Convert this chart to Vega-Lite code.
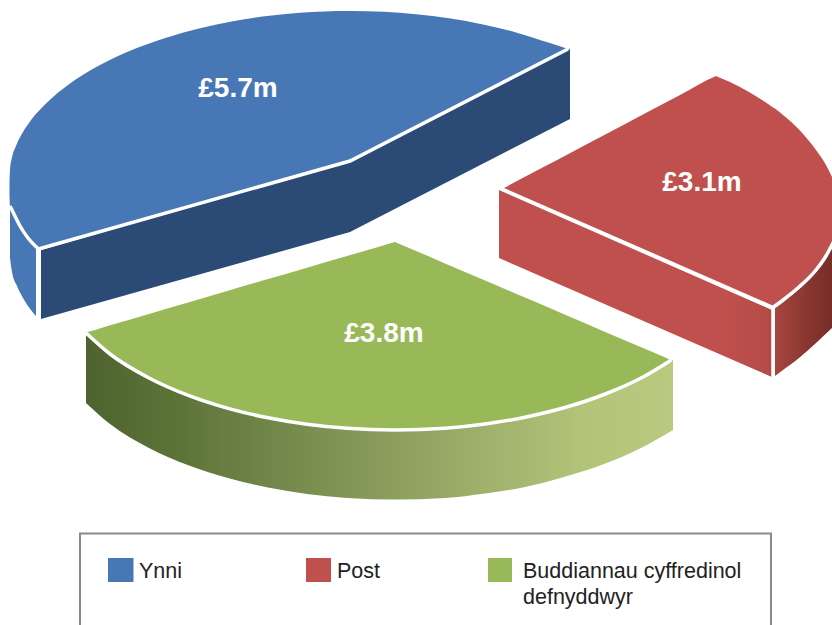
{
  "$schema": "https://vega.github.io/schema/vega-lite/v6.json",
  "width": 832,
  "height": 625,
  "padding": 0,
  "autosize": {"type": "none"},
  "background": "white",
  "config": {"view": {"stroke": null}},
  "datasets": {
    "tops": [
      {"slice":"Ynni","x":9.5,"y":180,"y2":196},{"slice":"Ynni","x":10,"y":170,"y2":206},{"slice":"Ynni","x":12,"y":157.6,"y2":210},{"slice":"Ynni","x":16,"y":146,"y2":218},{"slice":"Ynni","x":23,"y":132,"y2":230},{"slice":"Ynni","x":30,"y":121.6,"y2":240},{"slice":"Ynni","x":37.5,"y":112.2,"y2":248},{"slice":"Ynni","x":38.5,"y":111.3,"y2":249},{"slice":"Ynni","x":39.5,"y":110.2,"y2":248.7},{"slice":"Ynni","x":50,"y":99.7,"y2":245.8},{"slice":"Ynni","x":67,"y":85.7,"y2":240.8},{"slice":"Ynni","x":100,"y":65.1,"y2":231.5},{"slice":"Ynni","x":133,"y":49.6,"y2":222.2},{"slice":"Ynni","x":167,"y":37.4,"y2":212.6},{"slice":"Ynni","x":200,"y":28.2,"y2":203.3},{"slice":"Ynni","x":233,"y":21.3,"y2":194},{"slice":"Ynni","x":267,"y":16.1,"y2":184.4},{"slice":"Ynni","x":300,"y":12.8,"y2":175.1},{"slice":"Ynni","x":349,"y":11,"y2":161.3},{"slice":"Ynni","x":350,"y":11,"y2":161},{"slice":"Ynni","x":351,"y":11,"y2":160.5},{"slice":"Ynni","x":416,"y":14.2,"y2":127.1},{"slice":"Ynni","x":449,"y":18.3,"y2":110.1},{"slice":"Ynni","x":483,"y":24.4,"y2":92.7},{"slice":"Ynni","x":516,"y":32.4,"y2":75.7},{"slice":"Ynni","x":549,"y":42.8,"y2":58.8},{"slice":"Ynni","x":568,"y":49,"y2":49},
      {"slice":"Post","x":502,"y":189,"y2":189},{"slice":"Post","x":504,"y":187.9,"y2":189.9},{"slice":"Post","x":560,"y":158.4,"y2":214.4},{"slice":"Post","x":620,"y":126.7,"y2":240.6},{"slice":"Post","x":680,"y":95,"y2":266.9},{"slice":"Post","x":715,"y":76.4,"y2":282.2},{"slice":"Post","x":716,"y":76,"y2":282.6},{"slice":"Post","x":717,"y":76.4,"y2":283},{"slice":"Post","x":730,"y":82.1,"y2":288.7},{"slice":"Post","x":749,"y":92.1,"y2":297},{"slice":"Post","x":772,"y":106.7,"y2":307.1},{"slice":"Post","x":773,"y":107.4,"y2":307.5},{"slice":"Post","x":774,"y":108,"y2":306.7},{"slice":"Post","x":783,"y":115,"y2":300},{"slice":"Post","x":799,"y":129.5,"y2":287},{"slice":"Post","x":809,"y":141,"y2":278},{"slice":"Post","x":816,"y":150,"y2":270},{"slice":"Post","x":826,"y":165,"y2":256},{"slice":"Post","x":832,"y":177,"y2":245},
      {"slice":"Buddiannau cyffredinol defnyddwyr","x":86,"y":332.5,"y2":333},{"slice":"Buddiannau cyffredinol defnyddwyr","x":88,"y":332,"y2":334.6},{"slice":"Buddiannau cyffredinol defnyddwyr","x":110,"y":325.3,"y2":353.8},{"slice":"Buddiannau cyffredinol defnyddwyr","x":149,"y":313.9,"y2":378},{"slice":"Buddiannau cyffredinol defnyddwyr","x":189,"y":302.2,"y2":395.7},{"slice":"Buddiannau cyffredinol defnyddwyr","x":228,"y":290.8,"y2":408.4},{"slice":"Buddiannau cyffredinol defnyddwyr","x":268,"y":279.1,"y2":417.8},{"slice":"Buddiannau cyffredinol defnyddwyr","x":307,"y":267.7,"y2":424.3},{"slice":"Buddiannau cyffredinol defnyddwyr","x":347,"y":256,"y2":428.3},{"slice":"Buddiannau cyffredinol defnyddwyr","x":394,"y":242.3,"y2":430},{"slice":"Buddiannau cyffredinol defnyddwyr","x":395,"y":242,"y2":430},{"slice":"Buddiannau cyffredinol defnyddwyr","x":396,"y":242.4,"y2":430},{"slice":"Buddiannau cyffredinol defnyddwyr","x":445,"y":263.4,"y2":428.2},{"slice":"Buddiannau cyffredinol defnyddwyr","x":485,"y":280.5,"y2":424},{"slice":"Buddiannau cyffredinol defnyddwyr","x":525,"y":297.6,"y2":417.2},{"slice":"Buddiannau cyffredinol defnyddwyr","x":564,"y":314.3,"y2":407.8},{"slice":"Buddiannau cyffredinol defnyddwyr","x":604,"y":331.4,"y2":394.5},{"slice":"Buddiannau cyffredinol defnyddwyr","x":643,"y":348,"y2":377},{"slice":"Buddiannau cyffredinol defnyddwyr","x":669,"y":359.2,"y2":361.6},{"slice":"Buddiannau cyffredinol defnyddwyr","x":671,"y":360.2,"y2":360.2}
    ],
    "ynniRim": [
      {"x":10,"y":205,"y2":258},{"x":12,"y":209,"y2":272},{"x":17,"y":219,"y2":286},{"x":23,"y":230,"y2":298},{"x":28,"y":237,"y2":306},{"x":36,"y":246,"y2":316}
    ],
    "ynniCut": [
      {"x":41,"y":250,"y2":319},{"x":350,"y":161,"y2":232},{"x":570,"y":49,"y2":119}
    ],
    "postCut": [
      {"x":499,"y":190,"y2":258},{"x":772,"y":310,"y2":377}
    ],
    "postRim": [
      {"x":775,"y":308,"y2":376},{"x":783,"y":302,"y2":370},{"x":799,"y":289,"y2":358},{"x":816,"y":272,"y2":343},{"x":832,"y":247,"y2":328}
    ],
    "greenRim": [
      {"x":86,"y":333.5,"y2":403},{"x":110,"y":354.8,"y2":424},{"x":149,"y":379,"y2":448},{"x":189,"y":396.7,"y2":465.5},{"x":228,"y":409.4,"y2":478},{"x":268,"y":418.8,"y2":487.5},{"x":307,"y":425.3,"y2":494},{"x":347,"y":429.3,"y2":498},{"x":395,"y":431,"y2":499.5},{"x":445,"y":429.2,"y2":498},{"x":485,"y":425,"y2":493.5},{"x":525,"y":418.2,"y2":487},{"x":564,"y":408.8,"y2":477},{"x":604,"y":395.5,"y2":464},{"x":643,"y":378,"y2":447},{"x":673,"y":360,"y2":430}
    ],
    "straightEdges": [
      {"edge":"a","i":0,"x":38.5,"y":249},{"edge":"a","i":1,"x":350,"y":161},{"edge":"a","i":2,"x":568,"y":49},
      {"edge":"b","i":0,"x":38.5,"y":249},{"edge":"b","i":1,"x":38.5,"y":321},
      {"edge":"c","i":0,"x":502,"y":189},{"edge":"c","i":1,"x":773,"y":307.5},
      {"edge":"d","i":0,"x":773,"y":307.5},{"edge":"d","i":1,"x":773,"y":378}
    ],
    "curvedEdges": [
      {"edge":"e","i":0,"x":10,"y":206},{"edge":"e","i":1,"x":13,"y":212},{"edge":"e","i":2,"x":20,"y":226},{"edge":"e","i":3,"x":28,"y":238},{"edge":"e","i":4,"x":38.5,"y":249},
      {"edge":"f","i":0,"x":773,"y":307.5},{"edge":"f","i":1,"x":783,"y":300},{"edge":"f","i":2,"x":799,"y":287},{"edge":"f","i":3,"x":816,"y":270},{"edge":"f","i":4,"x":826,"y":256},{"edge":"f","i":5,"x":834,"y":241},
      {"edge":"g","i":0,"x":86,"y":333},{"edge":"g","i":1,"x":110,"y":354},{"edge":"g","i":2,"x":149,"y":378},{"edge":"g","i":3,"x":189,"y":395.7},{"edge":"g","i":4,"x":228,"y":408.4},{"edge":"g","i":5,"x":268,"y":417.8},{"edge":"g","i":6,"x":307,"y":424.3},{"edge":"g","i":7,"x":347,"y":428.3},{"edge":"g","i":8,"x":395,"y":430},{"edge":"g","i":9,"x":445,"y":428.2},{"edge":"g","i":10,"x":485,"y":424},{"edge":"g","i":11,"x":525,"y":417.2},{"edge":"g","i":12,"x":564,"y":407.8},{"edge":"g","i":13,"x":604,"y":394.5},{"edge":"g","i":14,"x":643,"y":377},{"edge":"g","i":15,"x":671,"y":360.2}
    ],
    "labels": [
      {"label":"£5.7m","x":238,"y":89},
      {"label":"£3.1m","x":702,"y":183},
      {"label":"£3.8m","x":384,"y":334}
    ],
    "keyFrame": [{"x":80,"x2":771,"y":533.5,"y2":640}],
    "keySwatches": [
      {"slice":"Ynni","x":108,"x2":133.5,"y":558,"y2":582},
      {"slice":"Post","x":306,"x2":331,"y":558,"y2":582},
      {"slice":"Buddiannau cyffredinol defnyddwyr","x":488,"x2":512,"y":558,"y2":582}
    ],
    "keyLabels": [
      {"label":"Ynni","x":139,"y":571.5},
      {"label":"Post","x":337,"y":571.5},
      {"label":"Buddiannau cyffredinol","x":523,"y":571.5},
      {"label":"defnyddwyr","x":523,"y":598}
    ]
  },
  "encoding": {
    "x": {"field":"x","type":"quantitative","axis":null,"scale":{"domain":[0,832],"nice":false,"zero":false}},
    "y": {"field":"y","type":"quantitative","axis":null,"stack":null,"scale":{"domain":[625,0],"nice":false,"zero":false}}
  },
  "layer": [
    {"data":{"name":"ynniRim"},"mark":{"type":"area","interpolate":"monotone","fill":"#4777b4"},"encoding":{"y2":{"field":"y2"}}},
    {"data":{"name":"ynniCut"},"mark":{"type":"area","fill":"#2b4b76"},"encoding":{"y2":{"field":"y2"}}},
    {"data":{"name":"postCut"},"mark":{"type":"area","fill":{"gradient":"linear","x1":0,"x2":1,"y1":0,"y2":0,"stops":[{"offset":0,"color":"#c0504d"},{"offset":0.82,"color":"#c0504d"},{"offset":1,"color":"#b34a46"}]}},"encoding":{"y2":{"field":"y2"}}},
    {"data":{"name":"postRim"},"mark":{"type":"area","interpolate":"monotone","fill":{"gradient":"linear","x1":0,"x2":1,"y1":0,"y2":0,"stops":[{"offset":0,"color":"#a8453f"},{"offset":0.6,"color":"#87352f"},{"offset":1,"color":"#782d29"}]}},"encoding":{"y2":{"field":"y2"}}},
    {"data":{"name":"greenRim"},"mark":{"type":"area","interpolate":"monotone","fill":{"gradient":"linear","x1":0,"x2":1,"y1":0,"y2":0,"stops":[{"offset":0,"color":"#4e632f"},{"offset":0.15,"color":"#5c7338"},{"offset":0.5,"color":"#899c5c"},{"offset":0.85,"color":"#b3c479"},{"offset":1,"color":"#b9c97f"}]}},"encoding":{"y2":{"field":"y2"}}},
    {
      "data":{"name":"tops"},
      "mark":{"type":"area","interpolate":"monotone"},
      "encoding":{
        "y2":{"field":"y2"},
        "color":{
          "field":"slice","type":"nominal","legend":null,
          "scale":{"domain":["Ynni","Post","Buddiannau cyffredinol defnyddwyr"],"range":["#4777b4","#c0504d","#99b858"]}
        }
      }
    },
    {"data":{"name":"straightEdges"},"mark":{"type":"line","stroke":"#ffffff","strokeWidth":3.5,"strokeJoin":"miter"},"encoding":{"detail":{"field":"edge"},"order":{"field":"i","type":"quantitative"}}},
    {"data":{"name":"curvedEdges"},"mark":{"type":"line","interpolate":"monotone","stroke":"#ffffff","strokeWidth":3.5},"encoding":{"detail":{"field":"edge"},"order":{"field":"i","type":"quantitative"}}},
    {"data":{"name":"labels"},"mark":{"type":"text","font":"Liberation Sans","fontWeight":"bold","fontSize":28,"fill":"#ffffff","align":"center","baseline":"middle"},"encoding":{"text":{"field":"label"}}},
    {"data":{"name":"keyFrame"},"mark":{"type":"rect","fill":null,"stroke":"#8a8a8a","strokeWidth":2},"encoding":{"x2":{"field":"x2"},"y2":{"field":"y2"}}},
    {
      "data":{"name":"keySwatches"},
      "mark":{"type":"rect"},
      "encoding":{
        "x2":{"field":"x2"},"y2":{"field":"y2"},
        "color":{"field":"slice","type":"nominal","legend":null}
      }
    },
    {"data":{"name":"keyLabels"},"mark":{"type":"text","font":"Liberation Sans","fontSize":21.5,"fill":"#222222","align":"left","baseline":"middle"},"encoding":{"text":{"field":"label"}}}
  ]
}
